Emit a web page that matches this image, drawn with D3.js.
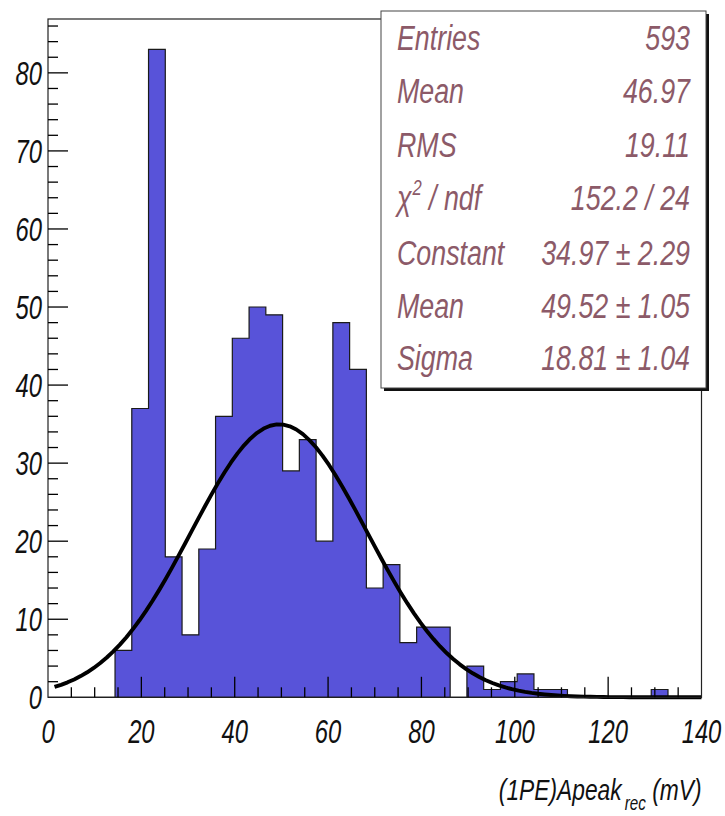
<!DOCTYPE html>
<html>
<head>
<meta charset="utf-8">
<script src="https://cdn.jsdelivr.net/npm/d3@7"></script>
<style>
  body { margin: 0; background: #ffffff; }
  svg { display: block; }
</style>
</head>
<body>
<script>
// Histogram: 39 equal bins over [0, 140]
const binRange = [0, 140];
const binCount = 39;
const binContents = [0, 0, 0, 0, 6, 37, 83, 18, 8, 19, 36, 46, 50, 49, 29, 33, 20, 48, 42, 14,
                     17, 7, 9, 9, 0, 4, 1, 2, 3, 1, 1, 0, 0, 0, 0, 0, 1, 0, 0];

// Gaussian fit parameters (Constant, Mean, Sigma)
const fitNames = ["Constant", "Mean", "Sigma"];
const fitValues = [34.97, 49.52, 18.81];
const fitErrors = [2.29, 1.05, 1.04];

// Statistics box rows
const statLabels = ["Entries", "Mean", "RMS", "chi2", "Constant", "Mean", "Sigma"];
const statValues = ["593", "46.97", "19.11", "152.2 / 24",
  fitValues[0].toFixed(2) + " \u00B1 " + fitErrors[0].toFixed(2),
  fitValues[1].toFixed(2) + " \u00B1 " + fitErrors[1].toFixed(2),
  fitValues[2].toFixed(2) + " \u00B1 " + fitErrors[2].toFixed(2)];

// Axis ticks and labels
const xMajorTicks = [0, 20, 40, 60, 80, 100, 120, 140];
const xTickLabels = ["0", "20", "40", "60", "80", "100", "120", "140"];
const yMajorTicks = [0, 10, 20, 30, 40, 50, 60, 70, 80];
const yTickLabels = ["0", "10", "20", "30", "40", "50", "60", "70", "80"];
const yMax = 86.9;

const W = 725, H = 816;
const FONT = "'Liberation Sans', Arial, Helvetica, sans-serif";
const svg = d3.select("body").append("svg").attr("width", W).attr("height", H);

const x = d3.scaleLinear().domain(binRange).range([48, 701.5]);
const y = d3.scaleLinear().domain([0, yMax]).range([697.3, 19]);

// Histogram as a stepped outline path
const binW = (binRange[1] - binRange[0]) / binCount;
const pts = [[x(binRange[0]), y(0)]];
binContents.forEach((c, i) => {
  const lo = binRange[0] + i * binW, hi = lo + binW;
  pts.push([x(lo), y(c)], [x(hi), y(c)]);
});
pts.push([x(binRange[1]), y(0)]);
svg.append("path")
  .attr("d", "M" + pts.map(p => p[0].toFixed(2) + "," + p[1].toFixed(2)).join("L") + "Z")
  .attr("fill", "#5853d9")
  .attr("stroke", "#1a1a1a")
  .attr("stroke-width", 1.2);

// Fit function sampled at 100 steps, as the fitter draws it
const gaus = v => fitValues[0] * Math.exp(-0.5 * Math.pow((v - fitValues[1]) / fitValues[2], 2));
const fx = d3.range(0, 101).map(i => binRange[0] + (binRange[1] - binRange[0]) * i / 100);
svg.append("path")
  .attr("d", d3.line().x(v => x(v)).y(v => y(gaus(v)))(fx.slice(1)))
  .attr("fill", "none")
  .attr("stroke", "#000")
  .attr("stroke-width", 3.9)
  .attr("stroke-linejoin", "round");

// Frame
svg.append("rect")
  .attr("x", x(binRange[0])).attr("y", y(yMax))
  .attr("width", x(binRange[1]) - x(binRange[0])).attr("height", y(0) - y(yMax))
  .attr("fill", "none").attr("stroke", "#222").attr("stroke-width", 1.2);

// Ticks (drawn inward)
const tickG = svg.append("g").attr("stroke", "#000").attr("stroke-width", 1.3);
d3.range(0, 141, 5).forEach(v => {
  const major = v % 20 === 0;
  if (v === 0 || v === 140) return;
  tickG.append("line").attr("x1", x(v)).attr("x2", x(v))
    .attr("y1", y(0)).attr("y2", y(0) - (major ? 20.5 : 10));
});
d3.range(0, 87, 2).forEach(v => {
  const major = v % 10 === 0;
  if (v === 0) return;
  tickG.append("line").attr("y1", y(v)).attr("y2", y(v))
    .attr("x1", x(0)).attr("x2", x(0) + (major ? 20 : 10));
});

// Horizontally condensed italic text helper
function label(parent, px, py, str, size, sx, anchor, fill) {
  return parent.append("text")
    .attr("transform", `translate(${px},${py}) scale(${sx},1)`)
    .attr("text-anchor", anchor)
    .attr("font-family", FONT)
    .attr("font-style", "italic")
    .attr("font-size", size)
    .attr("fill", fill)
    .text(str);
}

const AX = 34, AXS = 0.7;
xMajorTicks.forEach((v, i) => label(svg, x(v), 743, xTickLabels[i], AX, AXS, "middle", "#111"));
yMajorTicks.forEach((v, i) => label(svg, 42, y(v) + 0.358 * AX, yTickLabels[i], AX, AXS, "end", "#111"));

// Axis title with subscript
const title = svg.append("text")
  .attr("transform", `translate(701.5,800) scale(0.76,1)`)
  .attr("text-anchor", "end")
  .attr("font-family", FONT).attr("font-style", "italic")
  .attr("font-size", 30).attr("fill", "#111");
title.append("tspan").text("(1PE)Apeak");
title.append("tspan").attr("font-size", 20).attr("dy", 10).attr("dx", 4).text("rec");
title.append("tspan").attr("dy", -10).text(" (mV)");

// Statistics box with drop shadow
const box = { x: 381, y: 11, w: 325, h: 377 };
svg.append("rect").attr("x", box.x + 3).attr("y", box.y + 3).attr("width", box.w).attr("height", box.h)
  .attr("fill", "#111");
svg.append("rect").attr("x", box.x).attr("y", box.y).attr("width", box.w).attr("height", box.h)
  .attr("fill", "#fff").attr("stroke", "#444").attr("stroke-width", 1);

const SF = 35.5, SSX = 0.755, STAT = "#8c5a68";
const rowBase = [50, 103.3, 156.7, 210, 264.5, 318, 370];
statLabels.forEach((s, i) => {
  if (s === "chi2") {
    const t = label(svg, 397, rowBase[i], "", SF, SSX, "start", STAT);
    t.append("tspan").text("\u03C7");
    t.append("tspan").attr("font-size", 22).attr("dy", -15).attr("dx", 1).text("2");
    t.append("tspan").attr("dy", 15).text(" / ndf");
  } else {
    label(svg, 397, rowBase[i], s, SF, SSX, "start", STAT);
  }
  label(svg, 690, rowBase[i], statValues[i], SF, SSX, "end", STAT);
});
</script>
</body>
</html>
